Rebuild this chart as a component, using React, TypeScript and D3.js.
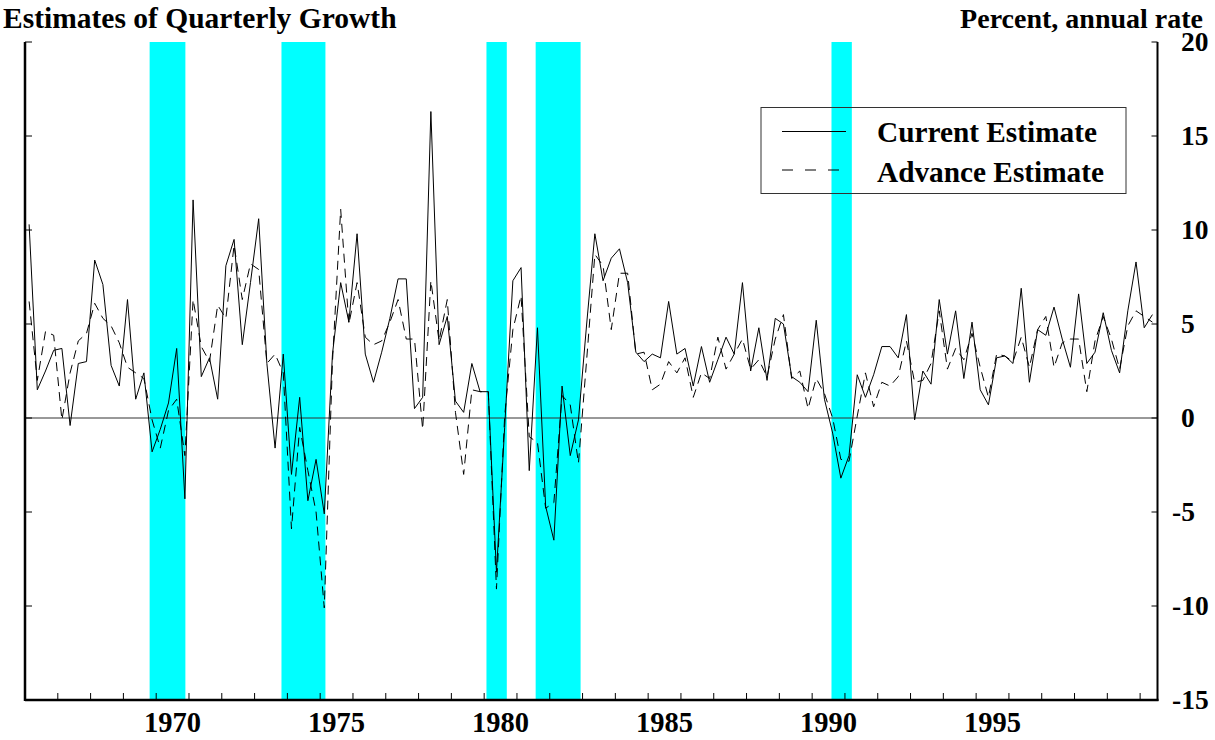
import React from "react";
import * as d3 from "d3";

// Quarterly growth, percent annual rate, 1966Q1 .. 2000Q2
const startYear = 1966;
const currentEstimate: number[] = [
  10.3, 1.5, 2.5, 3.6, 3.7, -0.4, 2.9, 3.0, 8.4, 7.1, 2.8, 1.7, 6.3, 1.0, 2.4, -1.8,
  -0.6, 0.8, 3.7, -4.3, 11.6, 2.2, 3.2, 1.0, 8.1, 9.5, 3.9, 7.2, 10.6, 2.9, -1.6, 3.4,
  -3.0, 1.1, -4.4, -2.2, -5.1, 3.4, 7.2, 5.1, 9.8, 3.4, 1.9, 3.5, 5.3, 7.4, 7.4, 0.5,
  1.1, 16.3, 3.9, 5.4, 0.9, 0.3, 2.9, 1.4, 1.4, -8.2, -0.5, 7.3, 8.0, -2.8, 4.8, -4.7,
  -6.5, 1.7, -2.0, -0.1, 5.0, 9.8, 7.3, 8.5, 9.0, 7.2, 3.5, 3.0, 3.4, 3.2, 6.2, 3.4,
  3.7, 1.7, 3.8, 1.9, 3.1, 4.3, 3.4, 7.2, 2.5, 4.8, 2.0, 5.3, 5.0, 2.2, 1.9, 1.4,
  5.2, 1.0, -0.8, -3.2, -2.0, 2.3, 1.1, 2.3, 3.8, 3.8, 3.2, 5.5, -0.1, 2.5, 1.8, 6.3,
  3.4, 5.7, 2.1, 5.1, 1.5, 0.7, 3.2, 3.3, 2.9, 6.9, 1.9, 4.7, 4.4, 5.9, 4.2, 2.7,
  6.6, 2.9, 3.5, 5.6, 3.6, 2.4, 5.7, 8.3, 4.8, 5.5,
];
const advanceEstimate: number[] = [
  6.2, 2.0, 4.6, 4.4, -0.1, 2.4, 4.1, 4.5, 6.1, 5.3, 4.9, 4.0, 2.7, 2.4, 2.1, -0.1,
  -1.6, 0.4, 1.0, -2.0, 6.3, 3.8, 3.0, 6.0, 5.3, 9.2, 6.3, 8.2, 7.9, 2.9, 3.4, 2.4,
  -5.9, -0.5, -2.8, -5.0, -10.1, 3.0, 11.1, 5.0, 7.2, 4.3, 3.9, 4.1, 5.1, 6.3, 4.2, 4.2,
  -0.6, 7.3, 4.1, 6.3, 0.3, -3.0, 1.5, 1.4, 1.4, -9.1, 0.1, 4.7, 6.5, -1.0, -1.3, -4.8,
  -4.5, 1.2, 0.7, -2.4, 3.1, 8.7, 8.1, 4.7, 7.7, 7.7, 3.4, 3.5, 1.5, 1.8, 3.0, 2.4,
  3.2, 1.1, 2.4, 2.1, 4.3, 2.6, 3.4, 4.2, 2.6, 3.1, 2.2, 4.2, 5.5, 2.1, 2.5, 0.5,
  2.1, 1.3, 0.0, -2.2, -2.3, 0.1, 2.4, 0.6, 1.9, 1.7, 2.2, 4.1, 1.9, 2.0, 2.9, 5.7,
  2.6, 3.7, 3.1, 4.5, 2.7, 1.1, 3.4, 3.3, 3.0, 4.3, 2.7, 4.7, 5.4, 2.7, 4.0, 4.2,
  4.2, 1.4, 4.1, 5.4, 4.2, 2.6, 4.9, 5.7, 5.4, 5.1,
];
// NBER recessions (start, end) in fractional years
const recessions: [number, number][] = [
  [1969.8, 1970.89],
  [1973.82, 1975.16],
  [1980.07, 1980.69],
  [1981.57, 1982.94],
  [1990.59, 1991.21],
];
const yTicks: number[] = [-15, -10, -5, 0, 5, 10, 15, 20];
const yearLabels: number[] = [1970, 1975, 1980, 1985, 1990, 1995];
const yearTicks: number[] = d3.range(1967, 2001);
const title = "Estimates of Quarterly Growth";
const unitsLabel = "Percent, annual rate";
const seriesNames = ["Current Estimate", "Advance Estimate"];

const W = 1215;
const H = 740;
const FONT = "'Liberation Serif', 'Times New Roman', Times, serif";

export default function App() {
  const x = d3.scaleLinear().domain([1966, 2000.53]).range([25, 1157.5]);
  const y = d3.scaleLinear().domain([-15, 20]).range([700, 42]);
  const qx = (i: number) => x(startYear + 0.125 + 0.25 * i);
  const line = d3
    .line<number>()
    .x((_, i) => qx(i))
    .y((d) => y(d));

  const [x0, x1] = x.range();
  const [yb, yt] = y.range();

  return (
    <svg
      width={W}
      height={H}
      style={{ position: "absolute", left: 0, top: 0, background: "#fff" }}
      fontFamily={FONT}
      fontWeight="bold"
    >
      {recessions.map(([a, b], i) => (
        <rect key={i} x={x(a)} y={yt} width={x(b) - x(a)} height={yb - yt} fill="#00ffff" />
      ))}
      {/* zero line */}
      <line x1={x0} x2={x1} y1={y(0)} y2={y(0)} stroke="#333" strokeWidth={1} />
      <path d={line(advanceEstimate) || ""} fill="none" stroke="#000" strokeWidth={1} strokeDasharray="9,6" />
      <path d={line(currentEstimate) || ""} fill="none" stroke="#000" strokeWidth={1} />

      {/* axes */}
      <line x1={x0} x2={x0} y1={yt} y2={yb + 1} stroke="#000" strokeWidth={2.5} />
      <line x1={x1} x2={x1} y1={yt} y2={yb + 1} stroke="#000" strokeWidth={2} />
      <line x1={x0} x2={x1 + 1} y1={yb} y2={yb} stroke="#000" strokeWidth={2.5} />
      {yTicks.map((t) => (
        <g key={t}>
          <line x1={x0} x2={x0 + 7} y1={y(t)} y2={y(t)} stroke="#000" strokeWidth={1} />
          <line x1={x1 - 6} x2={x1} y1={y(t)} y2={y(t)} stroke="#000" strokeWidth={1} />
          <text x={t < 0 ? 1172 : 1181} y={y(t) + 8.5} fontSize={27.5} textAnchor="start">
            {t < 0 ? `-${Math.abs(t)}` : t}
          </text>
        </g>
      ))}
      {yearTicks.map((t) => (
        <line key={t} x1={x(t)} x2={x(t)} y1={yb} y2={yb - 7} stroke="#000" strokeWidth={1} />
      ))}
      {yearLabels.map((t) => (
        <text key={t} x={x(t + 0.5)} y={731.5} fontSize={28.5} textAnchor="middle">
          {t}
        </text>
      ))}

      <text x={3} y={28} fontSize={29.5} textAnchor="start">
        {title}
      </text>
      <text x={1203} y={28} fontSize={28} textAnchor="end">
        {unitsLabel}
      </text>

      {/* legend */}
      <rect x={761} y={107.5} width={365} height={86} fill="none" stroke="#333" strokeWidth={1} />
      <line x1={782} x2={846} y1={131.5} y2={131.5} stroke="#000" strokeWidth={1} />
      <line x1={782} x2={846} y1={170} y2={170} stroke="#000" strokeWidth={1} strokeDasharray="11,12" />
      <text x={877} y={141.5} fontSize={29.3}>
        {seriesNames[0]}
      </text>
      <text x={877} y={181.5} fontSize={29.3}>
        {seriesNames[1]}
      </text>
    </svg>
  );
}
